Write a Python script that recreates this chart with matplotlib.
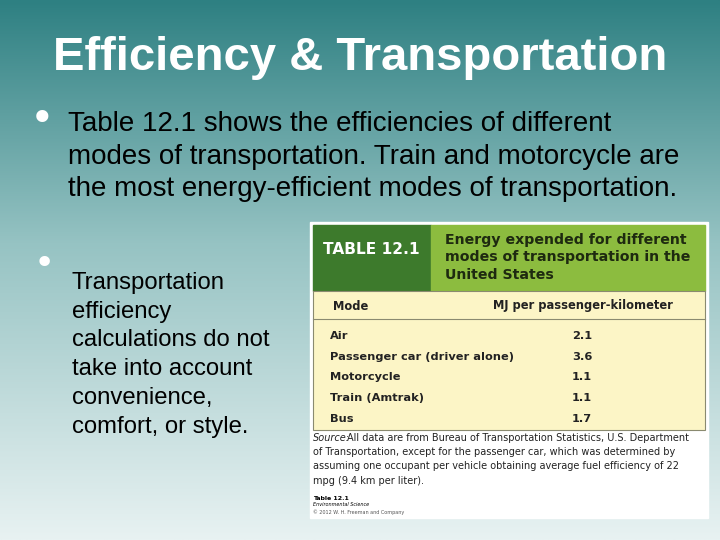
import matplotlib
matplotlib.use("Agg")
import matplotlib.pyplot as plt
import numpy as np
from matplotlib.patches import Rectangle

modes = ["Air", "Passenger car (driver alone)", "Motorcycle", "Train (Amtrak)", "Bus"]
mj_values = [2.1, 3.6, 1.1, 1.1, 1.7]
column_labels = ["Mode", "MJ per passenger-kilometer"]
source_lines = ["of Transportation, except for the passenger car, which was determined by",
                "assuming one occupant per vehicle obtaining average fuel efficiency of 22",
                "mpg (9.4 km per liter)."]

W, H = 720, 540
fig = plt.figure(figsize=(7.2, 5.4), dpi=100)
ax = fig.add_axes([0, 0, 1, 1])
ax.set_xlim(0, W); ax.set_ylim(H, 0); ax.axis("off")

top = np.array([46, 128, 130]) / 255
mid = np.array([150, 195, 195]) / 255
bot = np.array([232, 242, 242]) / 255
t = np.linspace(0, 1, 256)[:, None]
grad = np.where(t < 0.45, top + (mid - top) * (t / 0.45), mid + (bot - mid) * ((t - 0.45) / 0.55))
ax.imshow(grad[:, None, :].repeat(2, axis=1), extent=[0, W, H, 0], aspect="auto", zorder=0)

LS = "Liberation Sans"
ax.text(360, 58, "Efficiency & Transportation", color="white", fontsize=34, fontweight="bold",
        ha="center", va="center", family=LS)
ax.text(42, 120, "•", fontsize=30, color="white", ha="center", va="center")
body = ["Table 12.1 shows the efficiencies of different",
        "modes of transportation. Train and motorcycle are",
        "the most energy-efficient modes of transportation."]
for i, s in enumerate(body):
    ax.text(68, 124 + i * 32.5, s, fontsize=20, color="black", va="center", family=LS)
ax.text(44, 264, "•", fontsize=26, color="white", ha="center", va="center")
body2 = ["Transportation", "efficiency", "calculations do not", "take into account",
         "convenience,", "comfort, or style."]
for i, s in enumerate(body2):
    ax.text(72, 283 + i * 28.7, s, fontsize=17.2, color="black", va="center", family=LS)

ax.add_patch(Rectangle((310, 222), 398, 296, color="white", zorder=1))
ax.add_patch(Rectangle((313, 225), 118, 66, color="#3d7a2c", zorder=2))
ax.add_patch(Rectangle((431, 225), 274, 66, color="#8cbc3f", zorder=2))
ax.add_patch(Rectangle((313, 291), 392, 139, facecolor="#fcf5c6", edgecolor="#8a8a70", lw=0.8, zorder=2))
ax.plot([313, 705], [319, 319], color="#8a8a70", lw=0.8, zorder=3)
ax.text(323, 249, "TABLE 12.1", color="white", fontsize=11.1, fontweight="bold", va="center", zorder=4)
for i, s in enumerate(["Energy expended for different", "modes of transportation in the", "United States"]):
    ax.text(445, 240 + i * 17.5, s, color="#1e2a10", fontsize=10.2, fontweight="bold", va="center", zorder=4)
ax.text(333, 306, column_labels[0], fontsize=8.3, fontweight="bold", va="center", color="#222", zorder=4)
ax.text(493, 306, column_labels[1], fontsize=8.3, fontweight="bold", va="center", color="#222", zorder=4)
for i, (m, v) in enumerate(zip(modes, mj_values)):
    y = 336 + i * 20.7
    ax.text(330, y, m, fontsize=8.2, fontweight="bold", va="center", color="#222", zorder=4)
    ax.text(582, y, f"{v:.1f}", fontsize=8.2, fontweight="bold", va="center", ha="center", color="#222", zorder=4)
ax.text(313, 438, "Source:", fontsize=7, style="italic", va="center", color="#222", zorder=4)
ax.text(347, 438, "All data are from Bureau of Transportation Statistics, U.S. Department",
        fontsize=7, va="center", color="#222", zorder=4)
for i, s in enumerate(source_lines):
    ax.text(313, 452 + i * 14.3, s, fontsize=7, va="center", color="#222", zorder=4)
ax.text(313, 498, "Table 12.1", fontsize=4.5, fontweight="bold", va="center", zorder=4)
ax.text(313, 505, "Environmental Science", fontsize=3.5, style="italic", va="center", zorder=4)
ax.text(313, 512, "© 2012 W. H. Freeman and Company", fontsize=3.5, va="center", color="#555", zorder=4)

fig.savefig("out.png", dpi=100)
